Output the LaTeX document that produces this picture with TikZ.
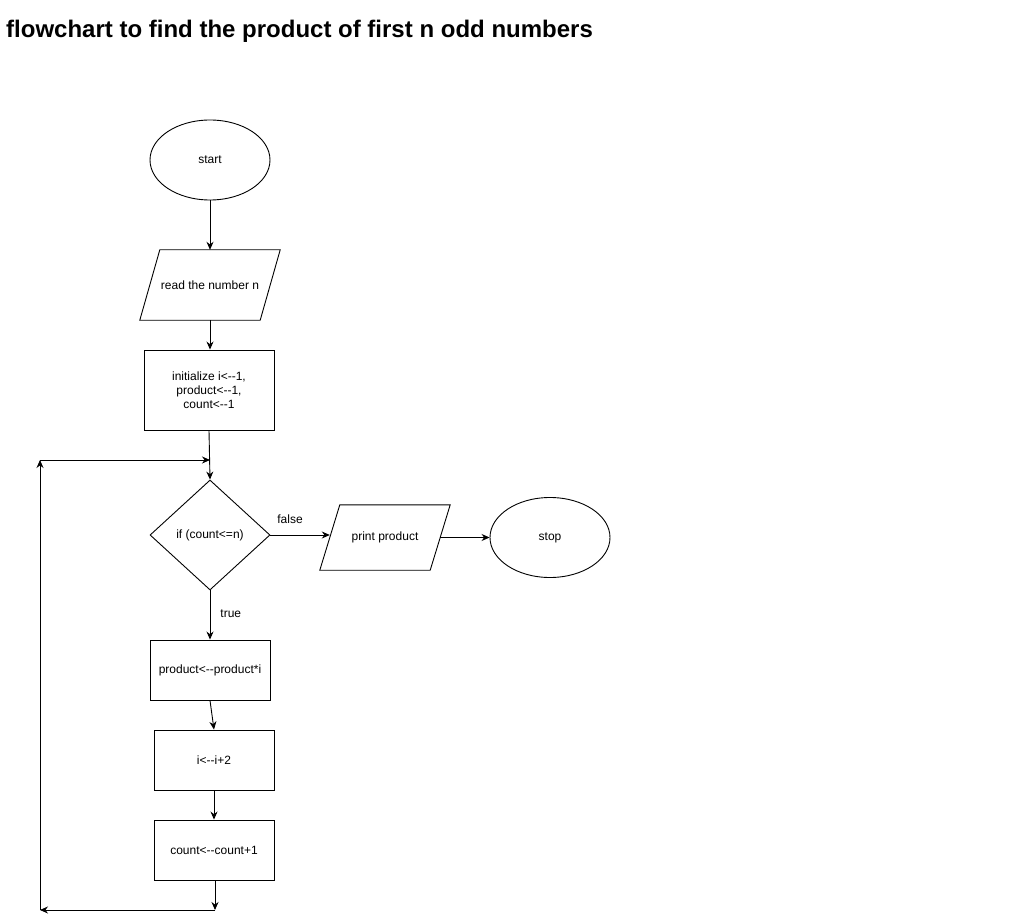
\documentclass[tikz,border=0pt]{standalone}
\usepackage{fontspec}
\setmainfont{Liberation Sans}
\usetikzlibrary{shapes.geometric,arrows.meta}
\newcommand\lar{<\mbox{-}\mbox{-}}
\begin{document}
\begin{tikzpicture}[x=1pt,y=-1pt,
  every node/.style={font=\fontsize{12}{14}\selectfont, inner sep=0pt},
  term/.style={draw, line width=0.9pt, ellipse, minimum width=120pt, minimum height=80pt},
  iobox/.style={rectangle},
  para/.style={line width=0.9pt},
  proc/.style={draw, line width=0.9pt, rectangle, align=center},
  dec/.style={draw, line width=0.9pt, diamond, aspect=1.09, minimum width=120pt, minimum height=110pt},
  arr/.style={-{Stealth[length=8pt,width=7pt]}, line width=0.9pt},
  lbl/.style={font=\fontsize{12}{14}\selectfont}
]
\useasboundingbox (0,0) rectangle (1031,920);
\node[anchor=base west, font=\fontsize{24}{28}\bfseries\selectfont] (title) at (6,38) {flowchart to find the product of first n odd numbers};

\node[term] (start) at (210,160) {start};
\node[iobox, minimum width=140pt, minimum height=70pt] (read) at (210,285) {read the number n};
\draw[para] (read.south west) -- ([xshift=20pt]read.north west) -- (read.north east) -- ([xshift=-20pt]read.south east) -- cycle;
\node[proc, minimum width=130pt, minimum height=80pt] (init) at (209,390) {initialize i\lar1,\\product\lar1,\\count\lar1};
\node[dec] (cond) at (210,535) {if (count<=n)};
\node[iobox, minimum width=130pt, minimum height=65pt] (print) at (385,537.5) {print product};
\draw[para] (print.south west) -- ([xshift=20pt]print.north west) -- (print.north east) -- ([xshift=-20pt]print.south east) -- cycle;
\node[term] (stop) at (550,537.5) {stop};
\node[proc, minimum width=120pt, minimum height=60pt] (prod) at (210,670) {product\lar product*i};
\node[proc, minimum width=120pt, minimum height=60pt] (inc) at (214,760) {i\lar i+2};
\node[proc, minimum width=120pt, minimum height=60pt] (cnt) at (214,850) {count\lar count+1};

\coordinate (b1) at (215,910);
\coordinate (b2) at (40,910);
\coordinate (b3) at (40,460);
\coordinate (b4) at (210,460);

\draw[arr] (start.south) -- (read.north);
\draw[arr] (read.south) -- (init.north -| read.south);
\draw[arr] (init.south) -- (cond.north);
\draw[arr] (cond.east) -- node[lbl, above=11pt, pos=0.33] (f) {false} ([xshift=10pt]print.west |- cond.east);
\draw[arr] ([xshift=-10pt]print.east) -- (stop.west);
\draw[arr] (cond.south) -- node[lbl, right=10pt, pos=0.48] (t) {true} (prod.north);
\draw[arr] (prod.south) -- (inc.north);
\draw[arr] (inc.south) -- (cnt.north);
\draw[arr] (cnt.south -| b1) -- (b1);
\draw[arr] (b1) -- (b2);
\draw[arr] (b2) -- (b3);
\draw[arr] (b3) -- (b4);
\end{tikzpicture}
\end{document}
